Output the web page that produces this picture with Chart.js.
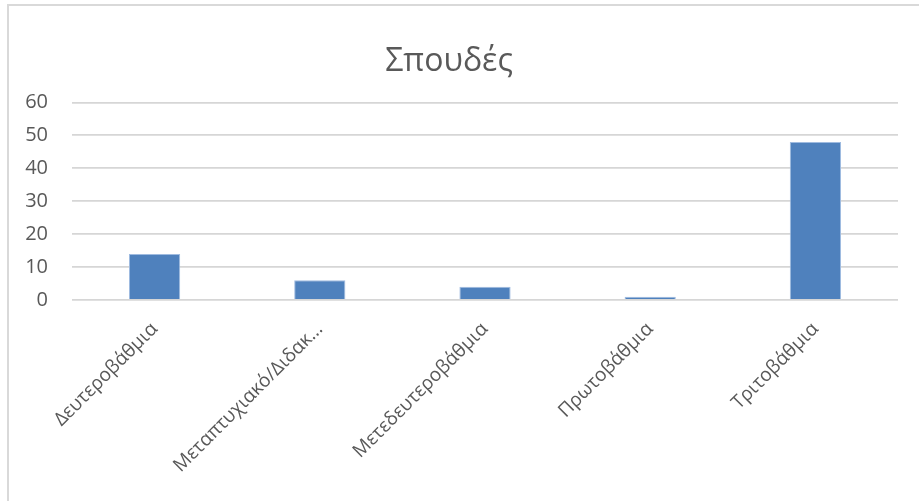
<!DOCTYPE html>
<html lang="el">
<head>
  <meta charset="UTF-8">
  <title>Σπουδές</title>
  <script src="https://cdn.jsdelivr.net/npm/chart.js"></script>
  <style>
    html, body {
      margin: 0;
      padding: 0;
      background: #fff;
      overflow: hidden;
      width: 919px;
      height: 501px;
    }

    /* πλαίσιο γραφήματος */
    .frame {
      position: absolute;
      left: 7px;
      top: 4px;
      width: 960px;
      height: 560px;
      border: 2px solid #d9d9d9;
    }

    #chart {
      position: absolute;
      left: 0;
      top: 0;
    }
  </style>
</head>
<body>
  <div class="frame"></div>
  <canvas id="chart" width="960" height="501"></canvas>

  <script>
    // Δεδομένα
    const categories = ['Δευτεροβάθμια', 'Μεταπτυχιακό/Διδακ...', 'Μετεδευτεροβάθμια', 'Πρωτοβάθμια', 'Τριτοβάθμια'];
    const values = [14, 6, 4, 1, 48];
    const yTicks = [0, 10, 20, 30, 40, 50, 60];

    const textColor = '#595959';
    const gridColor = '#d6d6d6';
    const fontFamily = '"Open Sans", "Noto Sans", sans-serif';

    const ctx = document.getElementById('chart').getContext('2d');
    new Chart(ctx, {
      type: 'bar',
      data: {
        labels: categories,
        datasets: [{
          label: 'Σπουδές',
          data: values,
          backgroundColor: '#4f81bd',
          borderColor: '#9fbbe0',
          borderWidth: 1,
          categoryPercentage: 1,
          barPercentage: 0.31
        }]
      },
      options: {
        responsive: false,
        animation: false,
        layout: {
          padding: { left: 0, right: 62, top: 0, bottom: 0 }
        },
        plugins: {
          legend: { display: false },
          tooltip: { enabled: false },
          title: {
            display: true,
            text: 'Σπουδές',
            color: textColor,
            font: { family: fontFamily, size: 32, weight: 'normal', lineHeight: 1.2 },
            padding: { top: 43, bottom: 21 }
          }
        },
        scales: {
          x: {
            grid: { display: false },
            border: { display: false },
            ticks: {
              color: textColor,
              font: { family: fontFamily, size: 19 },
              minRotation: 45,
              maxRotation: 45,
              autoSkip: false,
              padding: 10
            },
            afterFit: function(scale) { scale.height = 201; }
          },
          y: {
            min: 0,
            max: 60,
            afterBuildTicks: function(scale) {
              scale.ticks = yTicks.map(v => ({ value: v }));
            },
            grid: {
              color: gridColor,
              lineWidth: 1.8,
              drawTicks: false
            },
            border: { display: false },
            ticks: {
              color: textColor,
              font: { family: fontFamily, size: 20 },
              padding: 24
            },
            afterFit: function(scale) { scale.width = 72; }
          }
        }
      }
    });
  </script>
</body>
</html>
